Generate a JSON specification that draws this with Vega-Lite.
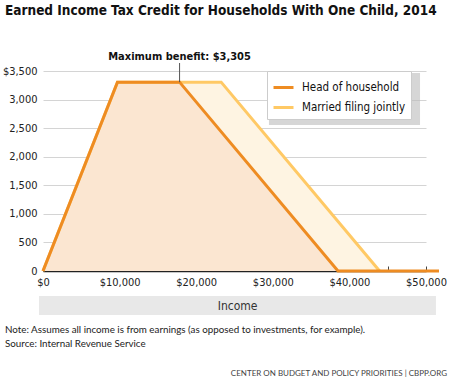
{
  "$schema": "https://vega.github.io/schema/vega-lite/v6.json",
  "width": 383,
  "height": 200,
  "autosize": {"type": "none"},
  "padding": {"left": 43, "top": 71, "right": 24, "bottom": 110},
  "background": "white",
  "title": {
    "text": "Earned Income Tax Credit for Households With One Child, 2014",
    "anchor": "start",
    "frame": "group",
    "font": "DejaVu Sans Condensed, Roboto",
    "fontSize": 13.5,
    "fontWeight": "bold",
    "color": "#111111",
    "dx": -38,
    "offset": 34
  },
  "config": {
    "view": {"stroke": null},
    "font": "DejaVu Sans Condensed, Roboto",
    "axisX": {
      "title": null,
      "tickCount": 10,
      "labelExpr": "datum.value % 10000 == 0 ? '$' + format(datum.value, ',') : ''",
      "labelFlush": false,
      "labelOverlap": false,
      "grid": false,
      "domainColor": "#222222",
      "domainWidth": 1.5,
      "tickColor": "#444444",
      "tickSize": -5,
      "labelPadding": 10,
      "labelFontSize": 11,
      "labelColor": "#222222"
    },
    "axisY": {
      "title": null,
      "tickCount": 7,
      "labelExpr": "datum.value == 3500 ? '$3,500' : format(datum.value, ',')",
      "grid": true,
      "gridColor": "#d4d4d4",
      "domain": false,
      "ticks": false,
      "labelPadding": 6,
      "labelFontSize": 11,
      "labelColor": "#222222"
    }
  },
  "data": {
    "values": [
      {"series": "Head of household", "income": 0, "credit": 0},
      {"series": "Head of household", "income": 9720, "credit": 3305},
      {"series": "Head of household", "income": 17830, "credit": 3305},
      {"series": "Head of household", "income": 38511, "credit": 0},
      {"series": "Head of household", "income": 51700, "credit": 0},
      {"series": "Married filing jointly", "income": 0, "credit": 0},
      {"series": "Married filing jointly", "income": 9720, "credit": 3305},
      {"series": "Married filing jointly", "income": 23260, "credit": 3305},
      {"series": "Married filing jointly", "income": 43941, "credit": 0}
    ]
  },
  "layer": [
    {
      "transform": [{"filter": "datum.series == 'Married filing jointly'"}],
      "mark": {"type": "area", "fill": "#FEF4E2"},
      "encoding": {
        "x": {"field": "income", "type": "quantitative", "scale": {"domain": [0, 50000], "nice": false, "zero": false}, "axis": {"title": null}},
        "y": {"field": "credit", "type": "quantitative", "scale": {"domain": [0, 3500], "nice": false}, "axis": {"title": null}}
      }
    },
    {
      "transform": [{"filter": "datum.series == 'Head of household'"}],
      "mark": {"type": "area", "fill": "#FBE6D1"},
      "encoding": {
        "x": {"field": "income", "type": "quantitative", "scale": {"domain": [0, 50000], "nice": false, "zero": false}, "axis": {"title": null}},
        "y": {"field": "credit", "type": "quantitative", "scale": {"domain": [0, 3500], "nice": false}, "axis": {"title": null}}
      }
    },
    {
      "data": {"values": [{}]},
      "mark": {"type": "rect", "fill": "#bbbbbb", "opacity": 0.6},
      "encoding": {
        "x": {"datum": 29500, "type": "quantitative", "scale": {"domain": [0, 50000], "nice": false, "zero": false}, "axis": {"title": null}},
        "x2": {"datum": 49220},
        "y": {"datum": 3465, "type": "quantitative", "scale": {"domain": [0, 3500], "nice": false}, "axis": {"title": null}},
        "y2": {"datum": 2555}
      }
    },
    {
      "transform": [{"filter": "datum.series == 'Married filing jointly'"}],
      "mark": {"type": "line", "strokeWidth": 3},
      "encoding": {
        "x": {"field": "income", "type": "quantitative", "scale": {"domain": [0, 50000], "nice": false, "zero": false}, "axis": {"title": null}},
        "y": {"field": "credit", "type": "quantitative", "scale": {"domain": [0, 3500], "nice": false}, "axis": {"title": null}},
        "stroke": {
          "field": "series",
          "type": "nominal",
          "scale": {"domain": ["Head of household", "Married filing jointly"], "range": ["#EE8C22", "#FFC965"]},
          "legend": {
            "orient": "none",
            "legendX": 224,
            "legendY": 0,
            "title": null,
            "symbolType": "stroke",
            "symbolStrokeWidth": 3,
            "symbolSize": 400,
            "labelFontSize": 11.5,
            "labelColor": "#111111",
            "fillColor": "white",
            "strokeColor": "#cccccc",
            "padding": 5,
            "rowPadding": 2,
            "labelOffset": 7
          }
        }
      }
    },
    {
      "transform": [{"filter": "datum.series == 'Head of household'"}],
      "mark": {"type": "line", "strokeWidth": 3},
      "encoding": {
        "x": {"field": "income", "type": "quantitative", "scale": {"domain": [0, 50000], "nice": false, "zero": false}, "axis": {"title": null}},
        "y": {"field": "credit", "type": "quantitative", "scale": {"domain": [0, 3500], "nice": false}, "axis": {"title": null}},
        "stroke": {
          "field": "series",
          "type": "nominal",
          "scale": {"domain": ["Head of household", "Married filing jointly"], "range": ["#EE8C22", "#FFC965"]},
          "legend": {
            "orient": "none",
            "legendX": 224,
            "legendY": 0,
            "title": null,
            "symbolType": "stroke",
            "symbolStrokeWidth": 3,
            "symbolSize": 400,
            "labelFontSize": 11.5,
            "labelColor": "#111111",
            "fillColor": "white",
            "strokeColor": "#cccccc",
            "padding": 5,
            "rowPadding": 2,
            "labelOffset": 7
          }
        }
      }
    },
    {
      "data": {"values": [{"income": 17830, "credit": 3305, "top": 3640}]},
      "mark": {"type": "rule", "color": "#555555", "strokeWidth": 1},
      "encoding": {
        "x": {"field": "income", "type": "quantitative", "scale": {"domain": [0, 50000], "nice": false, "zero": false}, "axis": {"title": null}},
        "y": {"field": "credit", "type": "quantitative", "scale": {"domain": [0, 3500], "nice": false}, "axis": {"title": null}},
        "y2": {"field": "top"}
      }
    },
    {
      "data": {"values": [{"income": 17830, "credit": 3745, "label": "Maximum benefit: $3,305"}]},
      "mark": {"type": "text", "fontSize": 11, "fontWeight": "bold", "color": "#111111", "baseline": "middle", "align": "center"},
      "encoding": {
        "x": {"field": "income", "type": "quantitative", "scale": {"domain": [0, 50000], "nice": false, "zero": false}, "axis": {"title": null}},
        "y": {"field": "credit", "type": "quantitative", "scale": {"domain": [0, 3500], "nice": false}, "axis": {"title": null}},
        "text": {"field": "label"}
      }
    },
    {
      "data": {"values": [{}]},
      "mark": {"type": "rect", "fill": "#e8e8e8"},
      "encoding": {
        "x": {"datum": -520, "type": "quantitative", "scale": {"domain": [0, 50000], "nice": false, "zero": false}, "axis": {"title": null}},
        "x2": {"datum": 51300},
        "y": {"datum": -437, "type": "quantitative", "scale": {"domain": [0, 3500], "nice": false}, "axis": {"title": null}},
        "y2": {"datum": -770}
      }
    },
    {
      "data": {"values": [{"label": "Income"}]},
      "mark": {"type": "text", "fontSize": 12, "color": "#333333", "baseline": "middle", "align": "center"},
      "encoding": {
        "x": {"datum": 25400, "type": "quantitative", "scale": {"domain": [0, 50000], "nice": false, "zero": false}, "axis": {"title": null}},
        "y": {"datum": -604, "type": "quantitative", "scale": {"domain": [0, 3500], "nice": false}, "axis": {"title": null}},
        "text": {"field": "label"}
      }
    },
    {
      "data": {"values": [{"label": "Note: Assumes all income is from earnings (as opposed to investments, for example)."}]},
      "mark": {"type": "text", "font": "Lato", "fontSize": 9.8, "color": "#222222", "baseline": "middle", "align": "left", "x": -38, "y": 259},
      "encoding": {"text": {"field": "label"}}
    },
    {
      "data": {"values": [{"label": "Source: Internal Revenue Service"}]},
      "mark": {"type": "text", "font": "Lato", "fontSize": 9.8, "color": "#222222", "baseline": "middle", "align": "left", "x": -38, "y": 273},
      "encoding": {"text": {"field": "label"}}
    },
    {
      "data": {"values": [{}]},
      "mark": {"type": "rule", "color": "#aaaaaa", "strokeWidth": 1, "x": -38, "x2": 402, "y": 291, "y2": 291},
      "encoding": {}
    },
    {
      "data": {"values": [{"label": "CENTER ON BUDGET AND POLICY PRIORITIES | CBPP.ORG"}]},
      "mark": {"type": "text", "font": "Lato", "fontSize": 8, "color": "#444444", "baseline": "middle", "align": "right", "x": 404, "y": 303},
      "encoding": {"text": {"field": "label"}}
    }
  ]
}
